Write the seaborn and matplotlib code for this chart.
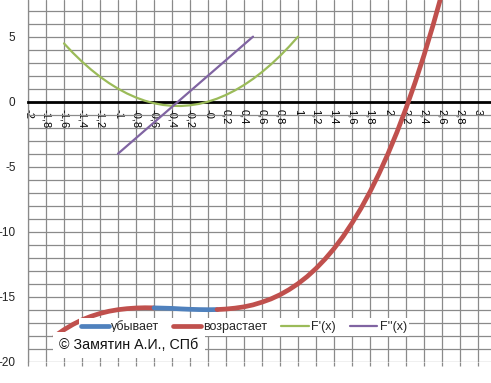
import numpy as np
import matplotlib
matplotlib.use("Agg")
import matplotlib.pyplot as plt
from matplotlib.lines import Line2D
import seaborn as sns

# F(x), left increasing part
x_up_left = [-1.7, -1.6, -1.5, -1.4, -1.3, -1.2, -1.1, -1.0, -0.9, -0.8, -0.7, -0.6]
y_up_left = [-18.02, -17.54, -17.13, -16.78, -16.51, -16.29, -16.12, -16.0, -15.92, -15.87, -15.85, -15.86]

# F(x), decreasing part
x_down = [-0.6, -0.5, -0.4, -0.3, -0.2, -0.1, 0.0, 0.1]
y_down = [-15.86, -15.88, -15.9, -15.94, -15.97, -15.99, -16.0, -15.99]

# F(x), right increasing part
x_up_right = [0.1, 0.2, 0.3, 0.4, 0.5, 0.6, 0.7, 0.8, 0.9, 1.0, 1.1, 1.2, 1.3, 1.4,
              1.5, 1.6, 1.7, 1.8, 1.9, 2.0, 2.1, 2.2, 2.3, 2.4, 2.5, 2.6, 2.7]
y_up_right = [-15.99, -15.95, -15.88, -15.78, -15.63, -15.42, -15.17, -14.85, -14.46, -14.0,
              -13.46, -12.83, -12.11, -11.3, -10.38, -9.34, -8.2, -6.93, -5.53, -4.0,
              -2.33, -0.51, 1.46, 3.58, 5.88, 8.34, 10.97]

# F'(x)
x_d1 = [-1.6, -1.5, -1.4, -1.3, -1.2, -1.1, -1.0, -0.9, -0.8, -0.7, -0.6, -0.5, -0.4, -0.3,
        -0.2, -0.1, 0.0, 0.1, 0.2, 0.3, 0.4, 0.5, 0.6, 0.7, 0.8, 0.9, 1.0]
y_d1 = [4.48, 3.75, 3.08, 2.47, 1.92, 1.43, 1.0, 0.63, 0.32, 0.07, -0.12, -0.25, -0.32, -0.33,
        -0.28, -0.17, 0.0, 0.23, 0.52, 0.87, 1.28, 1.75, 2.28, 2.87, 3.52, 4.23, 5.0]

# F''(x)
x_d2 = [-1.0, -0.5, 0.0, 0.5]
y_d2 = [-4.0, -1.0, 2.0, 5.0]

series_names = ["убывает", "возрастает", "F'(x)", "F''(x)"]
copyright_text = "© Замятин А.И., СПб"

x_ticks = np.round(np.arange(-2, 3.01, 0.2), 1)
x_tick_labels = [f"{v:g}".replace(".", ",") for v in x_ticks]
y_ticks = [-20, -15, -10, -5, 0, 5]

blue = "#4F81BD"
red = "#C0504D"
green = "#9BBB59"
purple = "#8064A2"
grid_c = "#8a8a8a"

sns.set_style("white")
plt.rcParams["font.family"] = ["Liberation Sans", "DejaVu Sans"]
plt.rcParams["axes.unicode_minus"] = False

fig = plt.figure(figsize=(4.91, 3.83), dpi=100)
ax = fig.add_axes([28 / 491, 21.3 / 383, 463 / 491, 361.7 / 383])

sns.lineplot(x=x_up_left, y=y_up_left, color=red, linewidth=3.4, sort=False, ax=ax,
             solid_capstyle="round", zorder=4)
sns.lineplot(x=x_down, y=y_down, color=blue, linewidth=3.4, sort=False, ax=ax,
             solid_capstyle="round", zorder=4)
sns.lineplot(x=x_up_right, y=y_up_right, color=red, linewidth=3.4, sort=False, ax=ax,
             solid_capstyle="round", zorder=5)
sns.lineplot(x=x_d1, y=y_d1, color=green, linewidth=1.6, sort=False, ax=ax, zorder=4)
sns.lineplot(x=x_d2, y=y_d2, color=purple, linewidth=1.6, sort=False, ax=ax, zorder=4)

# move the x axis to y = 0 before styling the ticks
for s in ["top", "right"]:
    ax.spines[s].set_visible(False)
ax.spines["left"].set_color(grid_c)
ax.spines["left"].set_linewidth(0.9)
ax.spines["bottom"].set_position(("data", 0))
ax.spines["bottom"].set_color("black")
ax.spines["bottom"].set_linewidth(2)
ax.spines["bottom"].set_zorder(3)

ax.set_xlim(-2, 3.144)
ax.set_ylim(-20, 7.82)

ax.set_xticks(x_ticks)
ax.set_xticklabels(x_tick_labels, fontsize=8)
ax.set_yticks(y_ticks)
ax.set_yticklabels([str(v) for v in y_ticks], fontsize=8.5)
ax.set_yticks(range(-20, 8), minor=True)
ax.grid(which="both", color=grid_c, linewidth=0.9)
ax.set_axisbelow(True)

ax.tick_params(axis="x", direction="out", length=5, width=1, color="black", pad=0.5,
               labelrotation=270, labelcolor="black")
ax.tick_params(axis="y", which="major", direction="out", length=4, width=0.9,
               color=grid_c, pad=5, labelcolor="#222222")
ax.tick_params(axis="y", which="minor", length=0)
ax.set_xlabel("")
ax.set_ylabel("")

# short grid stubs below the bottom edge
ax.vlines(x_ticks, -20.35, -20, colors=grid_c, linewidth=0.9, clip_on=False)

handles = [
    Line2D([], [], color=blue, linewidth=3.4),
    Line2D([], [], color=red, linewidth=3.4),
    Line2D([], [], color=green, linewidth=1.6),
    Line2D([], [], color=purple, linewidth=1.6),
]
leg = ax.legend(handles, series_names, loc="center", ncol=4,
                bbox_to_anchor=(244 / 491, 1 - 327 / 383), bbox_transform=fig.transFigure,
                frameon=True, fontsize=9, handlelength=2.2, handletextpad=0.2,
                columnspacing=1.1, borderpad=0.2, borderaxespad=0)
leg.get_frame().set_facecolor("white")
leg.get_frame().set_edgecolor("none")
leg.get_frame().set_alpha(1)
leg.get_frame().set_boxstyle("square", pad=0)
leg.set_zorder(10)

fig.text(59 / 491, 1 - 345 / 383, copyright_text, fontsize=10.3, ha="left", va="center",
         color="#111111", zorder=11,
         bbox=dict(facecolor="white", edgecolor="none", boxstyle="square,pad=0.45"))

fig.savefig("out.png", dpi=100)
